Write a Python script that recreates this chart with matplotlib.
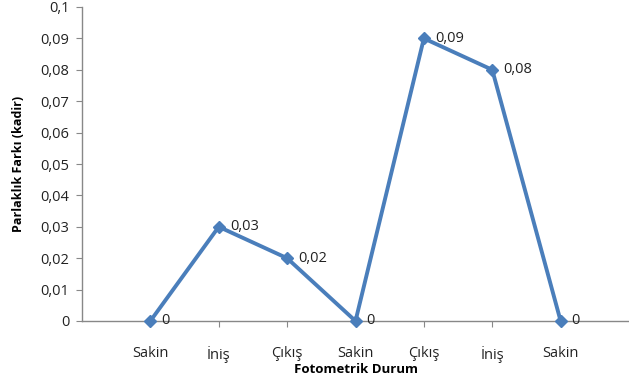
import matplotlib
matplotlib.use('Agg')
import matplotlib.pyplot as plt

# Photometric states and brightness difference (magnitude)
durum = ['Sakin', 'İniş', 'Çıkış', 'Sakin', 'Çıkış', 'İniş', 'Sakin']
fark = [0, 0.03, 0.02, 0, 0.09, 0.08, 0]
etiket = ['0', '0,03', '0,02', '0', '0,09', '0,08', '0']

plt.rcParams['font.family'] = ['Open Sans', 'DejaVu Sans']

fig = plt.figure(figsize=(6.29, 3.89), dpi=100)
ax = fig.add_axes([82 / 629, 1 - 321 / 389, 1 - 82 / 629, 314 / 389])

x = list(range(len(durum)))
ax.plot(x, fark, color='#4A7EBB', lw=2.8, marker='D', ms=6.5, zorder=3,
        clip_on=False)

for xi, yi, t in zip(x, fark, etiket):
    ax.annotate(t, (xi, yi), xytext=(8, 0), textcoords='offset points',
                ha='left', va='center', fontsize=10.5, color='#222222')

ax.set_xlim(-1, 7)
ax.set_ylim(0, 0.1)
ax.set_xticks(x)
ax.set_xticklabels(durum, fontsize=10.5, color='#222222')
ax.set_yticks([i / 100 for i in range(11)])
ax.set_yticklabels(['0'] + ['0,%02d' % i for i in range(1, 10)] + ['0,1'],
                   fontsize=10.5, color='#222222')

for s in ['top', 'right']:
    ax.spines[s].set_visible(False)
for s in ['left', 'bottom']:
    ax.spines[s].set_color('#888888')
    ax.spines[s].set_linewidth(1)
ax.tick_params(axis='both', colors='#888888', length=4, labelcolor='#222222')
ax.tick_params(axis='x', pad=14)
ax.tick_params(axis='y', pad=5)

ax.set_xlabel('Fotometrik Durum', fontsize=9.5, fontweight='bold', labelpad=0)
ax.set_ylabel('Parlaklık Farkı (kadir)', fontsize=9, fontweight='bold',
              labelpad=11)

fig.savefig('out.png', dpi=100)
